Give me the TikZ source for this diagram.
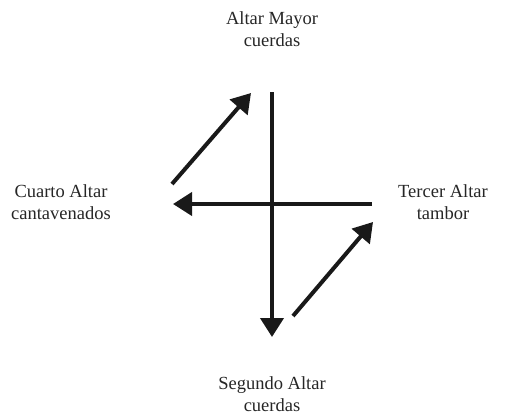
\documentclass[tikz,border=0pt]{standalone}
\usepackage{fontspec}
\setmainfont{Liberation Serif}
\usetikzlibrary{arrows.meta}
\begin{document}
\begin{tikzpicture}[x=1pt,y=-1pt,
  lbl/.style={align=center,font=\fontsize{18.5}{22}\selectfont,text=black!85,inner sep=0pt},
  arr/.style={line width=4pt,draw=black!90,-{Triangle[length=19pt,width=23pt]}}]
\useasboundingbox (0,0) rectangle (506,415);
\node[lbl] (mayor) at (272,29) {Altar Mayor\\cuerdas};
\node[lbl] (segundo) at (272,394) {Segundo Altar\\cuerdas};
\node[lbl] (cuarto) at (61,202) {Cuarto Altar\\cantavenados};
\node[lbl] (tercer) at (443,202) {Tercer Altar\\tambor};
\coordinate (vs) at (272,92);
\coordinate (ve) at (272,337);
\coordinate (hs) at (372,204);
\coordinate (he) at (173,204);
\coordinate (d1s) at (172,184);
\coordinate (d1e) at (251,93);
\coordinate (d2s) at (293,316);
\coordinate (d2e) at (373,222);
\draw[arr] (vs) -- (ve);
\draw[arr] (hs) -- (he);
\draw[arr] (d1s) -- (d1e);
\draw[arr] (d2s) -- (d2e);
\end{tikzpicture}
\end{document}
